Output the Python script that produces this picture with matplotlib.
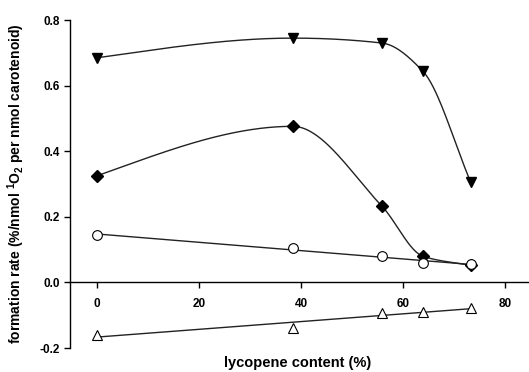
import matplotlib
matplotlib.use('Agg')
import matplotlib.pyplot as plt
import numpy as np

plt.rcParams['font.family'] = ['Liberation Sans', 'DejaVu Sans']
plt.rcParams['font.weight'] = 'bold'
plt.rcParams['mathtext.fontset'] = 'custom'
plt.rcParams['mathtext.rm'] = 'Liberation Sans:bold'
plt.rcParams['mathtext.default'] = 'rm'

# lycopene content of each sample (%)
lycopene = [0, 38.4, 55.9, 63.9, 73.3]

rate_tri_down = [0.685, 0.745, 0.730, 0.644, 0.305]
rate_diamond = [0.325, 0.476, 0.232, 0.080, 0.052]
rate_circle = [0.145, 0.105, 0.080, 0.060, 0.055]
rate_tri_up = [-0.160, -0.140, -0.092, -0.090, -0.078]

x_ticks = [0, 20, 40, 60, 80]
y_ticks = [-0.2, 0.0, 0.2, 0.4, 0.6, 0.8]


def pchip(x, y, n=300):
    # shape-preserving piecewise cubic through the points
    x = np.asarray(x, float)
    y = np.asarray(y, float)
    h = np.diff(x)
    d = np.diff(y) / h
    k = len(x)
    m = np.zeros(k)
    for i in range(1, k - 1):
        if d[i - 1] * d[i] > 0:
            w1 = 2 * h[i] + h[i - 1]
            w2 = h[i] + 2 * h[i - 1]
            m[i] = (w1 + w2) / (w1 / d[i - 1] + w2 / d[i])
    # gentler end slopes, so the first span doesn't flatten out early
    m[0] = 1.4 * d[0]
    m[-1] = d[-1]
    xs = np.linspace(x[0], x[-1], n)
    idx = np.clip(np.searchsorted(x, xs) - 1, 0, k - 2)
    hh = h[idx]
    t = (xs - x[idx]) / hh
    h00 = 2 * t ** 3 - 3 * t ** 2 + 1
    h10 = t ** 3 - 2 * t ** 2 + t
    h01 = -2 * t ** 3 + 3 * t ** 2
    h11 = t ** 3 - t ** 2
    ys = h00 * y[idx] + h10 * hh * m[idx] + h01 * y[idx + 1] + h11 * hh * m[idx + 1]
    return xs, ys


fig = plt.figure(figsize=(5.29, 3.72), dpi=100)
ax = fig.add_axes([0.132, 0.0645, 0.868, 0.8815])

for vals, marker in [(rate_tri_down, 'v'), (rate_diamond, 'D')]:
    xs, ys = pchip(lycopene, vals)
    ax.plot(xs, ys, color='#222222', lw=1.0, zorder=2)
    ax.plot(lycopene, vals, ls='none', marker=marker, ms=7 if marker == 'v' else 6,
            mfc='black', mec='black', mew=1.0, zorder=3)

xx = np.array([lycopene[0], lycopene[-1]])
for vals, marker in [(rate_circle, 'o'), (rate_tri_up, '^')]:
    slope, icpt = np.polyfit(lycopene, vals, 1)
    ax.plot(xx, slope * xx + icpt, color='#222222', lw=1.0, zorder=2)
    ax.plot(lycopene, vals, ls='none', marker=marker, ms=7,
            mfc='white', mec='black', mew=0.8, zorder=3)

ax.set_xlim(-5.3, 84.7)
ax.set_ylim(-0.2, 0.8)
ax.spines['top'].set_visible(False)
ax.spines['right'].set_visible(False)
ax.spines['bottom'].set_position(('data', 0))
ax.spines['left'].set_linewidth(1.0)
ax.spines['bottom'].set_linewidth(1.0)

ax.set_xticks(x_ticks)
ax.set_yticks(y_ticks)
ax.set_yticklabels(['%.1f' % v for v in y_ticks])
ax.tick_params(axis='both', direction='out', length=4, width=1.0, labelsize=8.5)
ax.tick_params(axis='y', pad=3)
ax.tick_params(axis='x', pad=7)

ax.set_xlabel('lycopene content (%)', fontsize=10.5, fontweight='bold', labelpad=0)
ax.xaxis.set_label_coords(0.497, -0.025)
ax.set_ylabel('formation rate (%/nmol $^1$O$_2$ per nmol carotenoid)',
              fontsize=10, fontweight='bold')
ax.yaxis.set_label_coords(-0.094, 0.5)

fig.savefig('out.png', dpi=100)
